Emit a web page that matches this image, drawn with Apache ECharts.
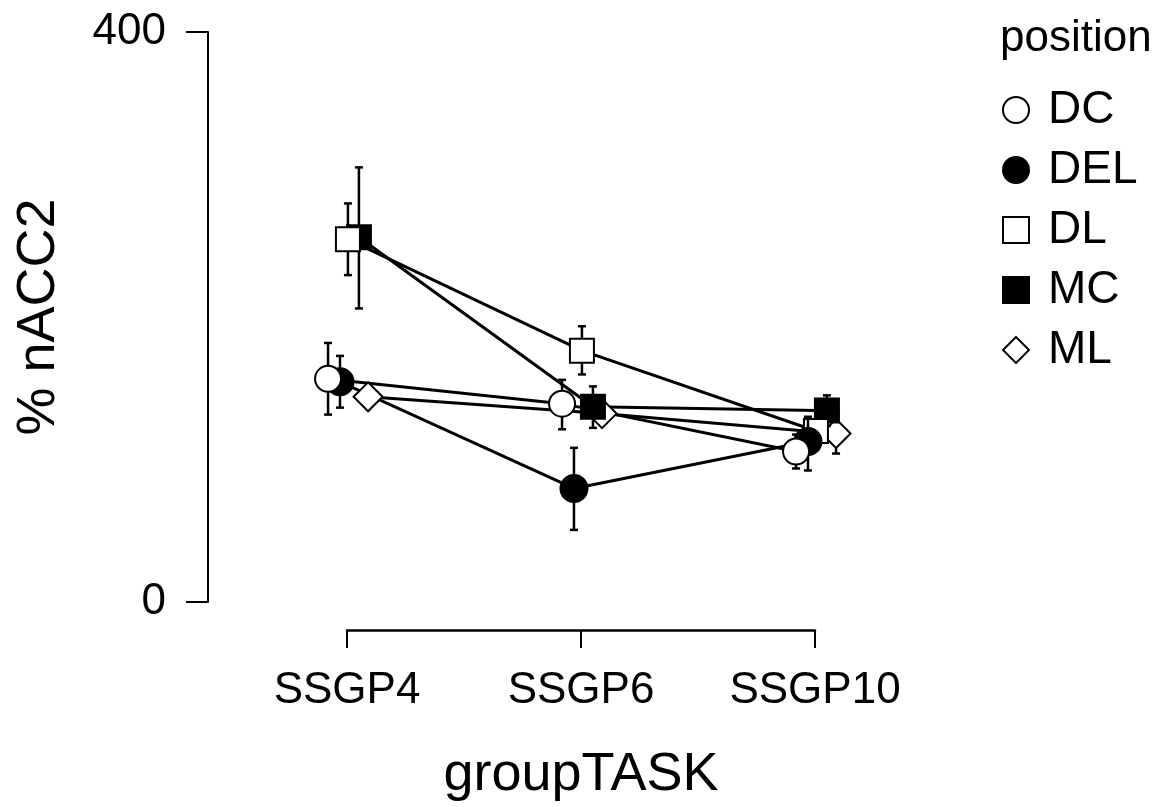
<!DOCTYPE html>
<html>
<head>
<meta charset="utf-8">
<script src="https://cdn.jsdelivr.net/npm/echarts@6/dist/echarts.min.js"></script>
<style>
  html, body { margin: 0; padding: 0; background: #fff; }
  #chart { width: 1164px; height: 807px; }
</style>
</head>
<body>
<div id="chart"></div>
<script>
// categories on the x axis
var tasks = ['SSGP4', 'SSGP6', 'SSGP10'];
// groups (legend order)
var positions = ['DC', 'DEL', 'DL', 'MC', 'ML'];

// means per group, one value per task
var dcMean  = [156.6, 139.2, 105.6];
var delMean = [154.5, 79.7, 112.6];
var dlMean  = [254.5, 176.4, 120.0];
var mcMean  = [256.0, 137.0, 134.3];
var mlMean  = [144.0, 132.2, 118.2];

// error bar ends (low / high)
var dcLow   = [131.5, 121.2, 93.7];
var dcHigh  = [181.8, 155.9, 117.5];
var delLow  = [136.4, 50.6, 92.3];
var delHigh = [172.7, 108.2, 130.0];
var dlLow   = [229.4, 159.7, 113.0];
var dlHigh  = [279.7, 193.5, 127.0];
var mcLow   = [206.0, 122.2, 123.5];
var mcHigh  = [305.0, 151.3, 145.0];
var mlLow   = [140.0, 126.0, 104.2];
var mlHigh  = [148.0, 138.0, 132.0];

// y axis tick labels
var yTicks = [0, 400];

var means = [dcMean, delMean, dlMean, mcMean, mlMean];
var lows  = [dcLow, delLow, dlLow, mcLow, mlLow];
var highs = [dcHigh, delHigh, dlHigh, mcHigh, mlHigh];

// horizontal dodge for each group (in category units)
var dodge = [-0.081, -0.030, 0.004, 0.051, 0.090];

var FONT = 'Liberation Sans, Arial, Helvetica, sans-serif';

var symbols = {
    DC:  { symbol: 'circle',  size: 26, fill: '#fff' },
    DEL: { symbol: 'circle',  size: 27, fill: '#000' },
    DL:  { symbol: 'rect',    size: 24, fill: '#fff' },
    MC:  { symbol: 'rect',    size: 24, fill: '#000' },
    ML:  { symbol: 'diamond', size: 29, fill: '#fff' }
};

var chart = echarts.init(document.getElementById('chart'));

var series = [];

// lines first (below everything)
positions.forEach(function(p, i){
    series.push({
        name: p + '-line',
        type: 'line',
        data: means[i].map(function(v, t){ return [t + 1 + dodge[i], v]; }),
        showSymbol: false,
        symbol: 'none',
        clip: false,
        silent: true,
        z: 2,
        lineStyle: { color: '#000', width: 3 }
    });
});

// error bars and points, drawn in reverse so DC ends on top
for (var i = positions.length - 1; i >= 0; i--) {
    (function(i){
        var p = positions[i];
        series.push({
            name: p + '-err',
            type: 'custom',
            clip: false,
            silent: true,
            z: 10 + (positions.length - i) * 2,
            data: lows[i].map(function(lo, t){ return [t + 1 + dodge[i], lo, highs[i][t]]; }),
            renderItem: function(params, api){
                var x = api.value(0);
                var a = api.coord([x, api.value(1)]);
                var b = api.coord([x, api.value(2)]);
                var w = 4;
                var st = { stroke: '#000', lineWidth: 2.5 };
                return {
                    type: 'group',
                    children: [
                        { type: 'line', shape: { x1: a[0], y1: a[1], x2: b[0], y2: b[1] }, style: st },
                        { type: 'line', shape: { x1: a[0] - w, y1: a[1], x2: a[0] + w, y2: a[1] }, style: st },
                        { type: 'line', shape: { x1: b[0] - w, y1: b[1], x2: b[0] + w, y2: b[1] }, style: st }
                    ]
                };
            }
        });
        var s = symbols[p];
        series.push({
            name: p,
            type: 'scatter',
            clip: false,
            symbol: s.symbol,
            symbolSize: s.size,
            z: 11 + (positions.length - i) * 2,
            itemStyle: { color: s.fill, borderColor: '#000', borderWidth: 2, opacity: 1 },
            data: means[i].map(function(v, t){ return [t + 1 + dodge[i], v]; })
        });
    })(i);
}

var option = {
    backgroundColor: '#fff',
    animation: false,
    textStyle: { fontFamily: FONT, color: '#000' },
    title: {
        text: 'position',
        left: 995,
        top: 12,
        textStyle: { fontFamily: FONT, fontSize: 44, fontWeight: 'normal', color: '#000' }
    },
    legend: {
        orient: 'vertical',
        left: 997,
        top: 82,
        itemWidth: 26,
        itemHeight: 26,
        itemGap: 14,
        textStyle: { fontFamily: FONT, fontSize: 46, color: '#000', lineHeight: 46, padding: [0, 0, 0, 14] },
        data: positions.map(function(p){
            var s = symbols[p];
            return {
                name: p,
                icon: s.symbol,
                itemStyle: { color: s.fill, borderColor: '#000', borderWidth: 2 }
            };
        })
    },
    grid: {
        left: 347,
        right: 349,
        top: 32,
        bottom: 203,
        containLabel: false
    },
    xAxis: {
        type: 'value',
        min: 1,
        max: 3,
        interval: 1,
        offset: 28,
        name: 'groupTASK',
        nameLocation: 'middle',
        nameGap: 118,
        nameTextStyle: { fontFamily: FONT, fontSize: 54, color: '#000' },
        splitLine: { show: false },
        axisLine: { show: true, onZero: false, lineStyle: { color: '#000', width: 2.5 } },
        axisTick: { show: true, length: 18, lineStyle: { color: '#000', width: 2 } },
        axisLabel: {
            margin: 39,
            fontFamily: FONT,
            fontSize: 44,
            color: '#000',
            formatter: function(v){ return tasks[v - 1] || ''; }
        }
    },
    yAxis: {
        type: 'value',
        min: yTicks[0],
        max: yTicks[1],
        interval: yTicks[1] - yTicks[0],
        offset: 139,
        name: '% nACC2',
        nameLocation: 'middle',
        nameGap: 142,
        nameRotate: 90,
        nameTextStyle: { fontFamily: FONT, fontSize: 54, color: '#000' },
        splitLine: { show: false },
        axisLine: { show: true, onZero: false, lineStyle: { color: '#000', width: 2 } },
        axisTick: { show: true, length: 22, lineStyle: { color: '#000', width: 2 } },
        axisLabel: { margin: 42, fontFamily: FONT, fontSize: 44, color: '#000' }
    },
    series: series
};

chart.setOption(option);
</script>
</body>
</html>
